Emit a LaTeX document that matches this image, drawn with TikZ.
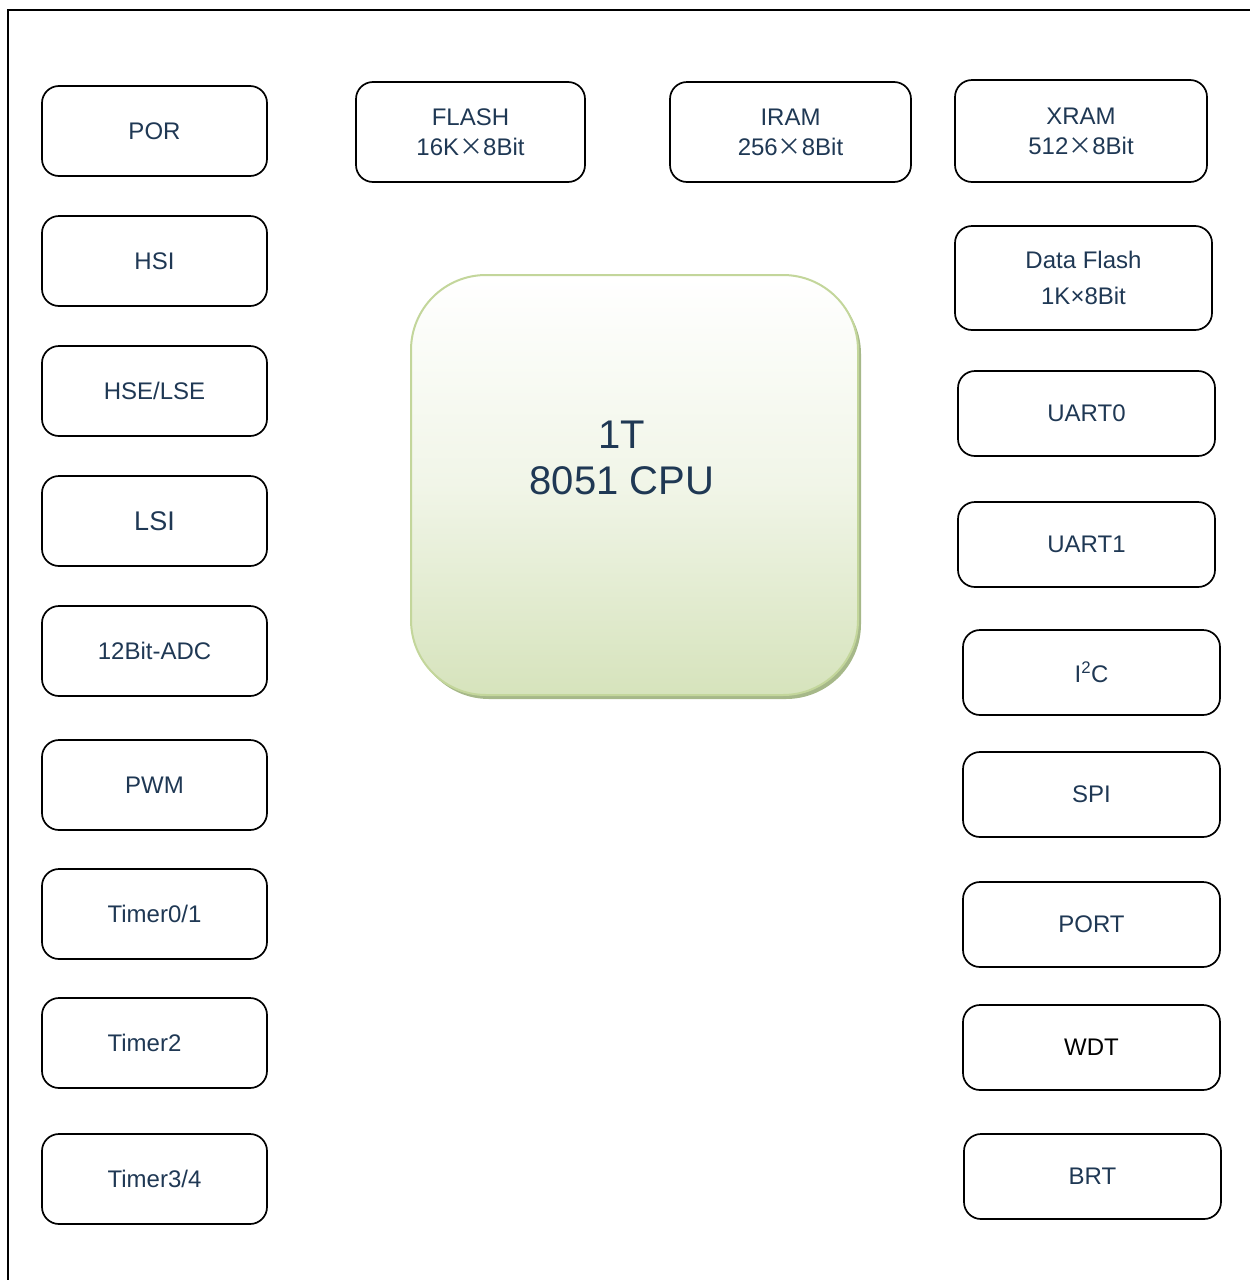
\documentclass[tikz,border=0pt]{standalone}
\usepackage{fontspec}
\setmainfont{Liberation Sans}
\newfontfamily\cjk{Noto Sans CJK SC}
\definecolor{txt}{RGB}{31,56,84}
\definecolor{cpubot}{RGB}{214,227,188}
\definecolor{cpuedge}{RGB}{195,214,155}
\definecolor{cpushadow}{RGB}{166,184,137}
\newcommand\bx[7][]{\node[box,#1, minimum width={#5-#3}, minimum height={#6-#4}] (#2) at ({(#3+#5)/2},{(#4+#6)/2}) {#7};}
\begin{document}
\begin{tikzpicture}[x=1pt,y=-1pt,
  box/.style={draw=black, line width=1.7pt, rounded corners=17pt, inner sep=0pt, text=txt,
    font=\fontsize{24}{30}\selectfont, align=center},
  cpubox/.style={draw=cpuedge, line width=2pt, rounded corners=75pt, top color=white, bottom color=cpubot, middle color={cpubot!35!white}, inner sep=0pt},
  frameline/.style={line width=1.7pt}]
\useasboundingbox (0,0) rectangle (1250,1280);
\coordinate (fbl) at (8,1284);
\coordinate (ftl) at (8,10);
\coordinate (ftr) at (1254,10);
\draw[frameline] (fbl) -- (ftl) -- (ftr);
% left column
\bx{por}{42}{86}{267}{176}{POR}
\bx{hsi}{42}{216}{267}{306}{HSI}
\bx{hse}{42}{346}{267}{436}{HSE/LSE}
\bx[font=\fontsize{27}{32}\selectfont]{lsi}{42}{476}{267}{566}{LSI}
\bx{adc}{42}{606}{267}{696}{12Bit-ADC}
\bx{pwm}{42}{740}{267}{830}{PWM}
\bx{tmra}{42}{869}{267}{959}{Timer0/1}
\bx{tmrb}{42}{998}{267}{1088}{\hspace*{-20pt}Timer2}
\bx{tmrc}{42}{1134}{267}{1224}{Timer3/4}
% top row
\bx{flash}{356}{82}{585}{182}{FLASH\\16K{\cjk ×}8Bit}
\bx{iram}{670}{82}{911}{182}{IRAM\\256{\cjk ×}8Bit}
\bx{xram}{955}{80}{1207}{182}{XRAM\\512{\cjk ×}8Bit}
% right column
\bx[font=\fontsize{24}{36}\selectfont]{dflash}{955}{226}{1212}{330}{Data Flash\\1K×8Bit}
\bx{uarta}{958}{371}{1215}{456}{UART0}
\bx{uartb}{958}{502}{1215}{587}{UART1}
\bx{iic}{963}{630}{1220}{715}{I\textsuperscript{2}C}
\bx{spi}{963}{752}{1220}{837}{SPI}
\bx{port}{963}{882}{1220}{967}{PORT}
\bx[text=black]{wdt}{963}{1005}{1220}{1090}{WDT}
\bx{brt}{964}{1134}{1221}{1219}{BRT}
% CPU
\node[fill=cpushadow, rounded corners=75pt, minimum width=447pt, minimum height=420pt, inner sep=0pt] (cpushadow) at (637.5,489) {};
\node[cpubox, minimum width=447pt, minimum height=420pt] (cpu) at (634.5,485) {};
\node[text=txt, font=\fontsize{40}{46}\selectfont, align=center, inner sep=0pt] (cputext) at (622,458) {1T\\8051 CPU};
\end{tikzpicture}
\end{document}
